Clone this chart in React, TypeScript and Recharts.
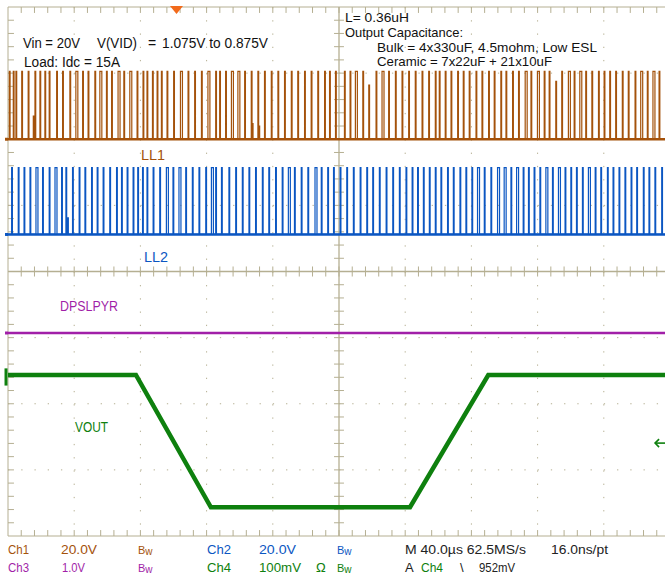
import React from "react";
import {
  LineChart,
  Line,
  XAxis,
  YAxis,
  CartesianGrid,
  ReferenceLine,
  ReferenceDot,
} from "recharts";

// scope screen: 10 div x 40us horizontally, 8 div vertically
const timeDomain = [0, 400];
const divDomain = [-4, 4];
const majorTimes = [40, 80, 120, 160, 240, 280, 320, 360];
const majorDivs = [-3, -2, -1, 1, 2, 3];
const minorTimes = Array.from({ length: 49 }, (_, i) => (i + 1) * 8);
const minorDivs = Array.from({ length: 39 }, (_, i) => Math.round((-3.8 + i * 0.2) * 10) / 10);

// channel setup: screen position (div), offset (V), V/div
const ch1 = { pos: 2.0, offset: 0, scale: 20 };
const ch2 = { pos: 0.56, offset: 0, scale: 20 };
const ch3 = { pos: -0.93, offset: 0, scale: 1 };
const ch4 = { pos: -1.565, offset: 1.075, scale: 0.1 };

// LL1 switching pulses (us)
const ll1Amp = 20.5;
const ll1Times = [
  0.8, 3.2, 4.8, 8.3, 12.2, 16.3, 19.3, 22.3, 24.9, 29.4, 33.0, 37.4, 41.0, 45.1, 48.4,
  52.5, 55.5, 59.5, 62.6, 66.5, 70.0, 73.6, 78.0, 81.6, 84.0, 87.3, 90.1, 92.7, 96.1,
  100.1, 104.2, 108.8, 112.8, 116.9, 120.8, 125.5, 127.9, 131.5, 135.0, 138.9, 143.0,
  147.0, 151.0, 155.0, 159.1, 163.1, 167.1, 171.2, 175.1, 179.2, 183.2, 187.2, 191.3,
  194.3, 197.9, 203.3, 206.7, 209.9, 214.4, 222.4, 226.0, 230.0, 234.1, 238.1, 242.1,
  246.1, 250.2, 254.2, 258.2, 260.6, 264.2, 267.7, 271.7, 275.1, 278.7, 282.8, 286.4,
  290.4, 293.8, 297.8, 300.9, 304.9, 308.5, 312.5, 316.0, 319.9, 324.0, 327.0, 334.6,
  338.6, 342.1, 345.5, 349.1, 352.8, 356.8, 360.2, 363.6, 367.2, 371.2, 374.8, 378.9,
  382.3, 386.3, 389.7, 393.4,
];
const ll1Wide = [41.0, 55.5, 66.5, 73.6, 104.2, 120.8, 135.0, 138.9, 209.9, 226.0, 312.5, 319.9, 338.6, 345.5, 382.3, 389.7];
const ll1Runts = [[15.3, 7.0], [147.6, 4.7], [151.6, 4.0], [218.0, 16.4], [331.0, 17.5]];

// LL2 switching pulses (us)
const ll2Amp = 20.2;
const ll2Times = [
  2.2, 6.2, 9.7, 13.3, 16.9, 20.9, 24.9, 28.4, 32.4, 35.0, 39.0, 43.0, 46.5, 50.5, 53.9,
  57.5, 61.5, 65.6, 68.6, 72.0, 75.6, 78.4, 81.3, 84.0, 87.7, 91.7, 95.7, 99.7, 103.3,
  107.4, 111.4, 115.4, 119.5, 122.9, 125.5, 129.0, 133.5, 137.6, 141.6, 145.6, 149.6,
  153.7, 157.6, 161.7, 165.7, 169.4, 173.1, 177.2, 181.2, 185.5, 189.3, 193.2, 196.7,
  200.7, 204.7, 208.7, 212.8, 216.8, 220.4, 224.4, 228.5, 232.5, 236.5, 240.5, 244.2,
  247.5, 251.0, 254.6, 258.2, 261.6, 265.6, 269.1, 273.1, 276.7, 280.3, 283.7, 287.8,
  291.8, 295.8, 299.8, 303.9, 307.3, 311.3, 314.5, 317.9, 321.4, 325.0, 329.0, 332.6,
  336.6, 340.1, 343.5, 347.1, 350.7, 354.8, 358.2, 362.2, 365.6, 369.2, 372.8, 376.5,
  379.9, 383.9, 387.3, 390.9, 395.0,
];
const ll2Wide = [16.9, 28.4, 95.7, 103.3, 122.9, 169.4, 185.5, 283.7, 295.8, 299.8, 307.3, 325.0, 332.6, 350.7];
const ll2Runts = [[36.0, 5.0]];

// DPSLPYR (V) and VOUT (V) against time (us)
const dpslpyrT = [0, 400];
const dpslpyrV = [0, 0];
const voutT = [0, 77.3, 122.6, 242.9, 290.2, 400];
const voutV = [1.075, 1.075, 0.875, 0.875, 1.075, 1.075];

const triggerPos = 101.8; // us
const triggerArrowLevel = 0.972; // V, where the ch4 level arrow sits

const GRID = "#B5AF92";
const C1 = "#A4520B";
const C2 = "#0B56C2";
const C3 = "#A11FA8";
const C4 = "#0E800E";

const toDiv = (ch: { pos: number; offset: number; scale: number }, v: number) =>
  ch.pos + (v - ch.offset) / ch.scale;

function pulseTrain(
  ch: { pos: number; offset: number; scale: number },
  times: number[],
  wide: number[],
  runts: number[][],
  amp: number
) {
  const ev = times
    .map((t) => ({ t, v: amp, w: wide.includes(t) ? 1.2 : 0.45 }))
    .concat(runts.map(([t, v]) => ({ t, v, w: 0.45 })))
    .sort((a, b) => a.t - b.t);
  const base = toDiv(ch, 0);
  const pts = [{ t: 0, y: base }];
  ev.forEach((e) => {
    const top = toDiv(ch, e.v);
    pts.push({ t: e.t, y: base }, { t: e.t, y: top }, { t: e.t + e.w, y: top }, { t: e.t + e.w, y: base });
  });
  pts.push({ t: 400, y: base });
  return pts;
}

const ll1Data = pulseTrain(ch1, ll1Times, ll1Wide, ll1Runts, ll1Amp);
const ll2Data = pulseTrain(ch2, ll2Times, ll2Wide, ll2Runts, ll2Amp);
const ll1Base = timeDomain.map((t) => ({ t, y: toDiv(ch1, 0) }));
const ll2Base = timeDomain.map((t) => ({ t, y: toDiv(ch2, 0) }));
const dpData = dpslpyrT.map((t, i) => ({ t, y: toDiv(ch3, dpslpyrV[i]) }));
const voutData = voutT.map((t, i) => ({ t, y: toDiv(ch4, voutV[i]) }));

const Bw = ({ x, y, color }: { x: number; y: number; color: string }) => (
  <text x={x} y={y} fill={color} fontSize={11}>
    B<tspan fontSize={10} dy={1}>w</tspan>
  </text>
);

export default function App() {
  const tX = 3.6; // border tick length, us
  const tY = 0.09; // border tick length, div
  const cX = 3.0;
  const cY = 0.076;
  return (
    <div
      style={{
        position: "fixed",
        left: 0,
        top: 0,
        width: 665,
        height: 580,
        overflow: "hidden",
        background: "#fff",
      }}
    >
      <LineChart width={675} height={580} margin={{ top: 7, right: 5, bottom: 44, left: 8 }}>
        <XAxis type="number" dataKey="t" domain={timeDomain} allowDataOverflow hide />
        <YAxis type="number" domain={divDomain} allowDataOverflow hide />
        <CartesianGrid
          horizontalValues={majorDivs}
          verticalValues={majorTimes}
          stroke={GRID}
          strokeDasharray="1.3 11.94"
        />
        <ReferenceLine x={0} stroke={GRID} />
        <ReferenceLine x={400} stroke={GRID} />
        <ReferenceLine y={4} stroke={GRID} />
        <ReferenceLine y={-4} stroke={GRID} />
        <ReferenceLine x={200} stroke={GRID} strokeWidth={1.3} />
        <ReferenceLine y={0} stroke={GRID} strokeWidth={1.3} />
        {minorTimes.map((t) => (
          <ReferenceLine key={"a" + t} segment={[{ x: t, y: 4 }, { x: t, y: 4 - tY }]} stroke={GRID} />
        ))}
        {minorTimes.map((t) => (
          <ReferenceLine key={"b" + t} segment={[{ x: t, y: -4 }, { x: t, y: -4 + tY }]} stroke={GRID} />
        ))}
        {minorTimes.map((t) => (
          <ReferenceLine key={"c" + t} segment={[{ x: t, y: -cY }, { x: t, y: cY }]} stroke={GRID} />
        ))}
        {minorDivs.map((d) => (
          <ReferenceLine key={"d" + d} segment={[{ x: 0, y: d }, { x: tX, y: d }]} stroke={GRID} />
        ))}
        {minorDivs.map((d) => (
          <ReferenceLine key={"e" + d} segment={[{ x: 200 - cX, y: d }, { x: 200 + cX, y: d }]} stroke={GRID} />
        ))}

        <Line data={ll1Base} dataKey="y" stroke={C1} strokeWidth={2.6} dot={false} isAnimationActive={false} />
        <Line data={ll1Data} dataKey="y" stroke={C1} strokeWidth={1.2} dot={false} isAnimationActive={false} />
        <Line data={ll2Base} dataKey="y" stroke={C2} strokeWidth={2.6} dot={false} isAnimationActive={false} />
        <Line data={ll2Data} dataKey="y" stroke={C2} strokeWidth={1.2} dot={false} isAnimationActive={false} />
        <Line data={dpData} dataKey="y" stroke={C3} strokeWidth={2.6} dot={false} isAnimationActive={false} />
        <Line data={voutData} dataKey="y" stroke={C4} strokeWidth={4.5} dot={false} isAnimationActive={false} />

        <ReferenceLine segment={[{ x: -1.8, y: toDiv(ch1, 0) }, { x: 0, y: toDiv(ch1, 0) }]} stroke={C1} strokeWidth={3} ifOverflow="visible" />
        <ReferenceLine segment={[{ x: -1.8, y: toDiv(ch2, 0) }, { x: 0, y: toDiv(ch2, 0) }]} stroke={C2} strokeWidth={3} ifOverflow="visible" />
        <ReferenceLine segment={[{ x: -1.8, y: toDiv(ch3, 0) }, { x: 0, y: toDiv(ch3, 0) }]} stroke={C3} strokeWidth={3} ifOverflow="visible" />
        <ReferenceLine segment={[{ x: -1.2, y: ch4.pos + 0.1 }, { x: -1.2, y: ch4.pos - 0.16 }]} stroke={C4} strokeWidth={3} ifOverflow="visible" />
        <ReferenceDot
          x={triggerPos}
          y={4}
          r={6}
          ifOverflow="visible"
          shape={(p: any) => (
            <path d={`M${p.cx - 6.5},${p.cy - 1} L${p.cx + 6.5},${p.cy - 1} L${p.cx},${p.cy + 7} Z`} fill="#F26A1B" />
          )}
        />
        <ReferenceDot
          x={394}
          y={toDiv(ch4, triggerArrowLevel)}
          r={4}
          ifOverflow="visible"
          shape={(p: any) => (
            <g stroke={C4} strokeWidth={1.6} fill="none">
              <path d={`M${p.cx - 5},${p.cy} L${p.cx + 14},${p.cy}`} />
              <path d={`M${p.cx - 1},${p.cy - 4} L${p.cx - 5},${p.cy} L${p.cx - 1},${p.cy + 4}`} />
            </g>
          )}
        />
      </LineChart>

      <svg
        width={665}
        height={580}
        style={{ position: "absolute", left: 0, top: 0, pointerEvents: "none" }}
        fontFamily="'Liberation Sans', Arial, sans-serif"
        fontSize={14}
      >
        <g fill="#111">
          <text x={23} y={48} textLength={57} lengthAdjust="spacingAndGlyphs">Vin = 20V</text>
          <text x={97} y={48} textLength={40} lengthAdjust="spacingAndGlyphs">V(VID)</text>
          <text x={148} y={48}>=</text>
          <text x={162} y={48} textLength={106} lengthAdjust="spacingAndGlyphs">1.075V to 0.875V</text>
          <text x={24} y={67} textLength={96} lengthAdjust="spacingAndGlyphs">Load: Idc = 15A</text>
        </g>
        <g fill="#111" fontSize={13}>
          <text x={345} y={22} textLength={64} lengthAdjust="spacingAndGlyphs">L= 0.36uH</text>
          <text x={345} y={37} textLength={118} lengthAdjust="spacingAndGlyphs">Output Capacitance:</text>
          <text x={377} y={52} textLength={220} lengthAdjust="spacingAndGlyphs">Bulk = 4x330uF, 4.5mohm, Low ESL</text>
          <text x={377} y={66} textLength={175} lengthAdjust="spacingAndGlyphs">Ceramic = 7x22uF + 21x10uF</text>
        </g>
        <text x={141} y={160} fill={C1} textLength={24} lengthAdjust="spacingAndGlyphs">LL1</text>
        <text x={144} y={262} fill={C2} textLength={24} lengthAdjust="spacingAndGlyphs">LL2</text>
        <text x={60} y={311} fill={C3} textLength={58} lengthAdjust="spacingAndGlyphs">DPSLPYR</text>
        <text x={75} y={432} fill={C4} textLength={33} lengthAdjust="spacingAndGlyphs">VOUT</text>

        <g fontSize={13}>
          <text x={8} y={554} fill={C1} textLength={21} lengthAdjust="spacingAndGlyphs">Ch1</text>
          <text x={61} y={554} fill={C1} textLength={36} lengthAdjust="spacingAndGlyphs">20.0V</text>
          <Bw x={138} y={554} color={C1} />
          <text x={207} y={554} fill={C2} textLength={24} lengthAdjust="spacingAndGlyphs">Ch2</text>
          <text x={259} y={554} fill={C2} textLength={37} lengthAdjust="spacingAndGlyphs">20.0V</text>
          <Bw x={337} y={554} color={C2} />
          <text x={405} y={554} fill="#222" textLength={121} lengthAdjust="spacingAndGlyphs">M 40.0µs 62.5MS/s</text>
          <text x={551} y={554} fill="#222" textLength={57} lengthAdjust="spacingAndGlyphs">16.0ns/pt</text>

          <text x={8} y={572} fill={C3} textLength={21} lengthAdjust="spacingAndGlyphs">Ch3</text>
          <text x={62} y={572} fill={C3} textLength={23} lengthAdjust="spacingAndGlyphs">1.0V</text>
          <Bw x={138} y={572} color={C3} />
          <text x={207} y={572} fill={C4} textLength={24} lengthAdjust="spacingAndGlyphs">Ch4</text>
          <text x={259} y={572} fill={C4} textLength={42} lengthAdjust="spacingAndGlyphs">100mV</text>
          <text x={316} y={572} fill={C4}>Ω</text>
          <Bw x={337} y={572} color={C4} />
          <text x={405} y={572} fill="#222">A</text>
          <text x={421} y={572} fill={C4} textLength={22} lengthAdjust="spacingAndGlyphs">Ch4</text>
          <text x={460} y={572} fill="#222">\</text>
          <text x={479} y={572} fill="#222" textLength={36} lengthAdjust="spacingAndGlyphs">952mV</text>
        </g>
      </svg>
    </div>
  );
}
